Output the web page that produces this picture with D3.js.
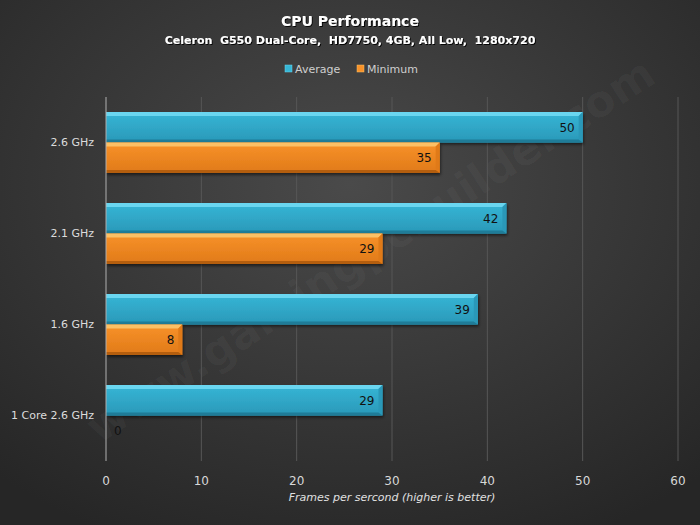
<!DOCTYPE html>
<html>
<head>
<meta charset="utf-8">
<script src="https://cdn.jsdelivr.net/npm/d3@7"></script>
<style>
  body { margin: 0; background: #333; }
  text { font-family: "DejaVu Sans", Verdana, sans-serif; }
</style>
</head>
<body>
<script>
// chart data
const categories = ['2.6 GHz', '2.1 GHz', '1.6 GHz', '1 Core 2.6 GHz'];
const seriesNames = ['Average', 'Minimum'];
const average = [50, 42, 39, 29];
const minimum = [35, 29, 8, 0];
const xTicks = [0, 10, 20, 30, 40, 50, 60];

const width = 700, height = 525;
const margin = {top: 97, right: 22, bottom: 64, left: 106};

const svg = d3.select('body').append('svg')
  .attr('width', width)
  .attr('height', height);

const defs = svg.append('defs');

const bg = defs.append('radialGradient')
  .attr('id', 'bg')
  .attr('cx', '50%').attr('cy', '35%').attr('r', '75%');
bg.append('stop').attr('offset', '0%').attr('stop-color', '#4a4a4a');
bg.append('stop').attr('offset', '100%').attr('stop-color', '#262626');

const palette = {
  Average: {top: '#6ad6f0', mid: '#36b6d6', bot: '#2a98b8', edge: '#1f7c98'},
  Minimum: {top: '#fcc065', mid: '#f8922a', bot: '#e07a18', edge: '#b45e0e'}
};
seriesNames.forEach((s) => {
  const g = defs.append('linearGradient')
    .attr('id', 'grad-' + s)
    .attr('x1', 0).attr('y1', 0).attr('x2', 0).attr('y2', 1);
  g.append('stop').attr('offset', '0%').attr('stop-color', palette[s].mid);
  g.append('stop').attr('offset', '100%').attr('stop-color', palette[s].bot);
});

const shadow = defs.append('filter').attr('id', 'shadow')
  .attr('x', '-5%').attr('y', '-20%').attr('width', '110%').attr('height', '160%');
shadow.append('feDropShadow')
  .attr('dx', 1).attr('dy', 2).attr('stdDeviation', 1.5)
  .attr('flood-color', '#000').attr('flood-opacity', 0.55);

const textShadow = defs.append('filter').attr('id', 'tshadow');
textShadow.append('feDropShadow')
  .attr('dx', 1).attr('dy', 1).attr('stdDeviation', 0.6)
  .attr('flood-color', '#000').attr('flood-opacity', 0.9);

svg.append('rect')
  .attr('width', width).attr('height', height)
  .attr('fill', 'url(#bg)');

// faint watermark
svg.append('text')
  .attr('transform', 'translate(370,250) rotate(-33)')
  .attr('text-anchor', 'middle')
  .attr('dy', '0.35em')
  .style('font-size', '44px')
  .style('font-weight', 'bold')
  .attr('fill', '#fff')
  .attr('fill-opacity', 0.035)
  .text('www.gamingpcbuilder.com');

const x = d3.scaleLinear()
  .domain([0, 60])
  .range([margin.left, width - margin.right]);

const y = d3.scaleBand()
  .domain(categories)
  .range([margin.top, height - margin.bottom])
  .paddingInner(0.33)
  .paddingOuter(0.165);

const y1 = d3.scaleBand()
  .domain(seriesNames)
  .range([0, y.bandwidth()]);

// gridlines
svg.append('g')
  .selectAll('line')
  .data(xTicks.slice(1))
  .join('line')
  .attr('x1', d => x(d)).attr('x2', d => x(d))
  .attr('y1', margin.top).attr('y2', height - margin.bottom)
  .attr('stroke', '#575757')
  .attr('stroke-width', 1);

// bars
const rows = categories.map((c, i) => ({cat: c, values: [average[i], minimum[i]]}));

const groups = svg.append('g')
  .selectAll('g')
  .data(rows)
  .join('g')
  .attr('transform', d => `translate(0,${y(d.cat)})`);

const bars = groups.selectAll('g')
  .data(d => seriesNames.map((s, j) => ({series: s, value: d.values[j]})))
  .join('g')
  .attr('transform', d => `translate(${x(0)},${y1(d.series)})`);

const bh = y1.bandwidth();

bars.filter(d => d.value > 0).each(function(d) {
  const g = d3.select(this);
  const w = x(d.value) - x(0);
  const c = palette[d.series];
  g.append('rect')
    .attr('width', w).attr('height', bh)
    .attr('fill', `url(#grad-${d.series})`)
    .attr('filter', 'url(#shadow)');
  // top bevel
  g.append('path')
    .attr('d', `M0,0H${w}L${w - 4},4H0Z`)
    .attr('fill', c.top);
  // right bevel
  g.append('path')
    .attr('d', `M${w},0V${bh}L${w - 4},${bh - 4}V4Z`)
    .attr('fill', c.bot);
  // bottom bevel
  g.append('path')
    .attr('d', `M0,${bh}H${w}L${w - 4},${bh - 3}H0Z`)
    .attr('fill', c.edge);
});

bars.append('text')
  .attr('x', d => d.value > 0 ? x(d.value) - x(0) - 8 : 8)
  .attr('y', bh / 2)
  .attr('dy', '0.36em')
  .attr('text-anchor', d => d.value > 0 ? 'end' : 'start')
  .attr('fill', '#111')
  .style('font-size', '12px')
  .text(d => d.value);

// y axis line + labels
svg.append('line')
  .attr('x1', x(0)).attr('x2', x(0))
  .attr('y1', margin.top).attr('y2', height - margin.bottom)
  .attr('stroke', '#b0b0b0');

svg.append('g')
  .selectAll('text')
  .data(categories)
  .join('text')
  .attr('x', x(0) - 12)
  .attr('y', d => y(d) + y.bandwidth() / 2)
  .attr('dy', '0.36em')
  .attr('text-anchor', 'end')
  .attr('fill', '#dcdcdc')
  .style('font-size', '11px')
  .text(d => d);

// x axis labels
svg.append('g')
  .selectAll('text')
  .data(xTicks)
  .join('text')
  .attr('x', d => x(d))
  .attr('y', height - margin.bottom + 24)
  .attr('text-anchor', 'middle')
  .attr('fill', '#d8d8d8')
  .style('font-size', '12px')
  .text(d => d);

svg.append('text')
  .attr('x', (x(0) + x(60)) / 2)
  .attr('y', 501)
  .attr('text-anchor', 'middle')
  .attr('fill', '#e0e0e0')
  .style('font-size', '11px')
  .style('font-style', 'italic')
  .text('Frames per sercond  (higher is better)');

// titles
svg.append('text')
  .attr('x', 350).attr('y', 26)
  .attr('text-anchor', 'middle')
  .attr('fill', '#fff')
  .attr('filter', 'url(#tshadow)')
  .style('font-size', '14px')
  .style('font-weight', 'bold')
  .text('CPU Performance');

svg.append('text')
  .attr('x', 350).attr('y', 44)
  .attr('text-anchor', 'middle')
  .attr('fill', '#fff')
  .attr('filter', 'url(#tshadow)')
  .style('font-size', '11px')
  .style('font-weight', 'bold')
  .attr('xml:space', 'preserve')
  .text('Celeron  G550 Dual-Core,  HD7750, 4GB, All Low,  1280x720');

// legend
const legendX = [285, 357];
const legend = svg.append('g')
  .selectAll('g')
  .data(seriesNames)
  .join('g')
  .attr('transform', (d, i) => `translate(${legendX[i]},69)`);

legend.append('rect')
  .attr('x', 0).attr('y', -4)
  .attr('width', 7).attr('height', 7)
  .attr('fill', d => palette[d].mid)
  .attr('stroke', d => palette[d].top)
  .attr('stroke-width', 0.5);

legend.append('text')
  .attr('x', 10)
  .attr('dy', '0.36em')
  .attr('fill', '#cfcfcf')
  .style('font-size', '11px')
  .text(d => d);
</script>
</body>
</html>
